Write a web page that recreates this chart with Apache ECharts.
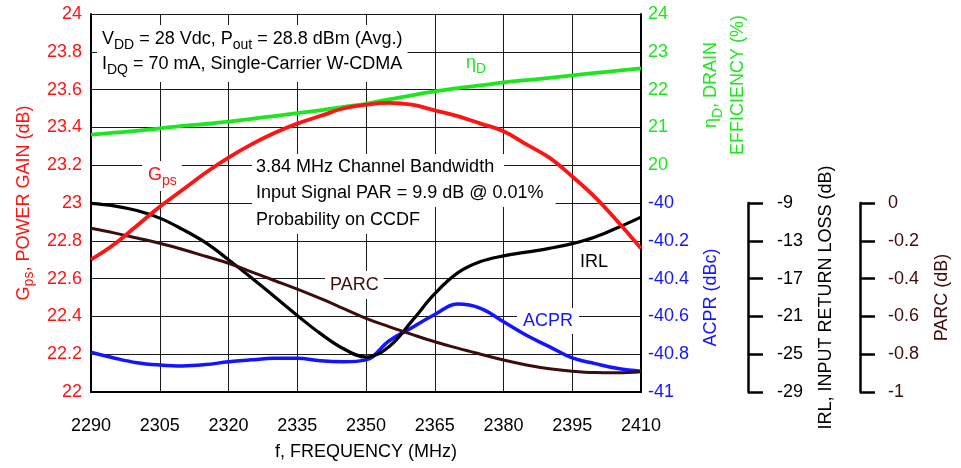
<!DOCTYPE html>
<html><head><meta charset="utf-8">
<script src="https://cdn.jsdelivr.net/npm/echarts@6/dist/echarts.min.js"></script>
<style>html,body{margin:0;padding:0;background:#fff}#c{width:961px;height:468px}</style>
</head><body><div id="c"></div>
<script>
const freqs = [2290,2295,2300,2305,2310,2315,2320,2325,2330,2335,2340,2345,2350,2355,2360,2365,2370,2375,2380,2385,2390,2395,2400,2405,2410];
const gps  = [22.70,22.78,22.88,22.98,23.07,23.16,23.24,23.31,23.37,23.42,23.46,23.50,23.52,23.53,23.52,23.49,23.46,23.42,23.38,23.31,23.24,23.14,23.03,22.90,22.76];
const eff  = [20.81,20.86,20.91,20.975,21.04,21.09,21.15,21.225,21.30,21.375,21.45,21.54,21.625,21.74,21.85,21.95,22.04,22.11,22.19,22.25,22.31,22.375,22.44,22.50,22.56];
const irl  = [-9.03,-9.3,-9.8,-10.6,-11.8,-13.2,-15.0,-16.9,-18.9,-20.9,-22.8,-24.4,-25.3,-24.2,-21.5,-18.6,-16.4,-15.2,-14.6,-14.2,-13.8,-13.3,-12.6,-11.6,-10.5];
const parc = [-0.134,-0.158,-0.185,-0.213,-0.246,-0.282,-0.319,-0.364,-0.41,-0.456,-0.505,-0.557,-0.61,-0.654,-0.695,-0.734,-0.768,-0.80,-0.831,-0.857,-0.877,-0.89,-0.897,-0.898,-0.893];
const acpr = [-40.79,-40.82,-40.845,-40.857,-40.862,-40.855,-40.84,-40.83,-40.822,-40.822,-40.835,-40.84,-40.83,-40.73,-40.66,-40.59,-40.535,-40.557,-40.628,-40.70,-40.76,-40.82,-40.85,-40.876,-40.89];
const irlTicks  = [-29,-25,-21,-17,-13,-9];
const parcTicks = [-1,-0.8,-0.6,-0.4,-0.2,0];

const FF = "'Liberation Sans',Arial,sans-serif";
const RED='#ff1414', GREEN='#1ee61e', BLUE='#1414ff', BROWN='#3d0c0c', BLACK='#000';
const FS = 18, SS = 14;
function richE(color){ // for axis names (echarts label style)
  return {
    a:{fontFamily:FF,fontSize:FS,color:color,lineHeight:25},
    s:{fontFamily:FF,fontSize:SS,color:color,lineHeight:14,verticalAlign:'bottom'}
  };
}
function richG(color, lh){ // for graphic texts (zrender style)
  return {
    a:{fontFamily:FF,fontSize:FS,fill:color,lineHeight:lh||25},
    s:{fontFamily:FF,fontSize:SS,fill:color,lineHeight:14,verticalAlign:'bottom'}
  };
}
const chart = echarts.init(document.getElementById('c'), null, {renderer:'canvas'});
const L=91, R=320;
const gridLine = {show:true,lineStyle:{color:'#1a1a1a',width:1}};
const plain = (c)=>({font:FS+'px '+FF,fill:c,lineHeight:20,align:'left',verticalAlign:'top'});
chart.setOption({
  animation:false,
  backgroundColor:'#fff',
  grid:[
    {left:L,right:R,top:14,bottom:76},
    {left:L,right:R,top:203,bottom:76}
  ],
  xAxis:[
    {type:'category',gridIndex:0,data:freqs,boundaryGap:false,
     name:'f, FREQUENCY (MHz)',nameLocation:'middle',nameGap:51,
     nameTextStyle:{fontFamily:FF,fontSize:FS,color:BLACK},
     axisLine:{lineStyle:{color:BLACK,width:2}},
     axisTick:{show:false,interval:2},
     axisLabel:{interval:2,margin:25,fontFamily:FF,fontSize:FS,color:BLACK},
     splitLine:{show:true,interval:2,lineStyle:{color:'#1a1a1a',width:1}}},
    {type:'category',gridIndex:1,data:freqs,boundaryGap:false,show:false}
  ],
  yAxis:[
    {type:'value',gridIndex:0,position:'left',min:22,max:24,interval:0.2,
     name:'{a|G}{s|ps}{a|, POWER GAIN (dB)}',nameLocation:'middle',nameGap:52,
     nameTextStyle:{color:RED,fontFamily:FF,fontSize:FS,rich:richE(RED)},
     axisLine:{show:true,lineStyle:{color:BLACK,width:2}},axisTick:{show:false},
     axisLabel:{margin:9,fontFamily:FF,fontSize:FS,color:RED,formatter:v=>String(Math.round(v*10)/10)},
     splitLine:gridLine},
    {type:'value',gridIndex:0,position:'right',offset:0,min:14,max:24,interval:1,
     axisLine:{show:true,lineStyle:{color:BLACK,width:2}},axisTick:{show:false},
     axisLabel:{margin:7,fontFamily:FF,fontSize:FS,color:GREEN,formatter:v=>(v>=20?String(Math.round(v)):'')},splitLine:{show:false}},
    {type:'value',gridIndex:1,position:'right',offset:0,min:-41,max:-40,interval:0.2,
     name:'ACPR (dBc)',nameLocation:'middle',nameGap:61,
     nameTextStyle:{color:BLUE,fontFamily:FF,fontSize:FS},
     axisLine:{show:true,lineStyle:{color:BLACK,width:2}},axisTick:{show:false},
     axisLabel:{margin:7,fontFamily:FF,fontSize:FS,color:BLUE,formatter:v=>String(Math.round(v*10)/10)},
     splitLine:{show:false}},
    {type:'value',gridIndex:1,position:'right',offset:107,min:-29,max:-9,
     name:'IRL, INPUT RETURN LOSS (dB)',nameLocation:'middle',nameGap:69,
     nameTextStyle:{color:BLACK,fontFamily:FF,fontSize:FS},
     axisLine:{show:true,lineStyle:{color:BLACK,width:2.5}},
     axisTick:{show:true,length:15,lineStyle:{color:BLACK,width:2.5},customValues:irlTicks},
     axisLabel:{margin:29,fontFamily:FF,fontSize:FS,color:BLACK,customValues:irlTicks},
     splitLine:{show:false}},
    {type:'value',gridIndex:1,position:'right',offset:219,min:-1,max:0,
     name:'PARC (dB)',nameLocation:'middle',nameGap:73,
     nameTextStyle:{color:BROWN,fontFamily:FF,fontSize:FS},
     axisLine:{show:true,lineStyle:{color:BLACK,width:2.5}},
     axisTick:{show:true,length:15,lineStyle:{color:BLACK,width:2.5},customValues:parcTicks},
     axisLabel:{margin:28,fontFamily:FF,fontSize:FS,color:BROWN,customValues:parcTicks,formatter:v=>String(Math.round(v*10)/10)},
     splitLine:{show:false}}
  ],
  series:[
    {name:'ACPR',type:'line',xAxisIndex:1,yAxisIndex:2,data:acpr,smooth:0.4,showSymbol:false,clip:false,lineStyle:{color:BLUE,width:3.5},z:3},
    {name:'IRL',type:'line',xAxisIndex:1,yAxisIndex:3,data:irl,smooth:0.4,showSymbol:false,clip:false,lineStyle:{color:BLACK,width:3.2},z:4},
    {name:'PARC',type:'line',xAxisIndex:1,yAxisIndex:4,data:parc,smooth:0.4,showSymbol:false,clip:false,lineStyle:{color:BROWN,width:3},z:5},
    {name:'Eff',type:'line',xAxisIndex:0,yAxisIndex:1,data:eff,smooth:0.4,showSymbol:false,clip:false,lineStyle:{color:GREEN,width:3.8},z:5},
    {name:'Gps',type:'line',xAxisIndex:0,yAxisIndex:0,data:gps,smooth:0.4,showSymbol:false,clip:false,lineStyle:{color:RED,width:3.8},z:6}
  ],
  graphic:[
    {type:'text',x:97,y:25,z:1,style:{text:'{a|V}{s|DD}{a| = 28 Vdc, P}{s|out}{a| = 28.8 dBm (Avg.)}\n{a|I}{s|DQ}{a| = 70 mA, Single-Carrier W-CDMA}',
      rich:richG(BLACK),backgroundColor:'#fff',padding:[2,5,5,5],align:'left',verticalAlign:'top'}},
    {type:'text',x:252,y:154,z:1,style:Object.assign(plain(BLACK),{text:'3.84 MHz Channel Bandwidth',backgroundColor:'#fff',padding:[3,10,4,4]})},
    {type:'text',x:252,y:180,z:1,style:Object.assign(plain(BLACK),{text:'Input Signal PAR = 9.9 dB @ 0.01%',backgroundColor:'#fff',padding:[3,12,4,4]})},
    {type:'text',x:252,y:207,z:1,style:Object.assign(plain(BLACK),{text:'Probability on CCDF',backgroundColor:'#fff',padding:[3,10,4,4]})},
    {type:'text',x:142,y:161,z:1,style:{text:'{a|G}{s|ps}',rich:richG(RED),backgroundColor:'#fff',padding:[2,5,3,6],align:'left',verticalAlign:'top'}},
    {type:'text',x:466,y:51,z:1,style:{text:'{a|η}{s|D}',rich:richG(GREEN),align:'left',verticalAlign:'top'}},
    {type:'text',x:325,y:271,z:1,style:Object.assign(plain(BROWN),{text:'PARC',backgroundColor:'#fff',padding:[4,5,4,5]})},
    {type:'text',x:580,y:252,z:1,style:Object.assign(plain(BLACK),{text:'IRL'})},
    {type:'text',x:517,y:308,z:1,style:Object.assign(plain(BLUE),{text:'ACPR',backgroundColor:'#fff',padding:[3,6,3,6]})},
    {type:'text',x:725,y:85,rotation:Math.PI/2,z:1,style:{text:'{a|η}{s|D}{a|, DRAIN}\n{a|EFFICIENCY (%)}',rich:richG(GREEN,27),
      align:'center',verticalAlign:'middle'}}
  ]
});
</script></body></html>
